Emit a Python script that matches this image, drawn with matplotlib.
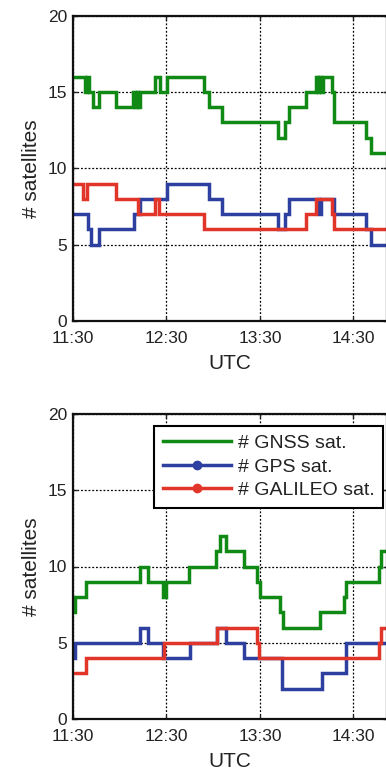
import matplotlib
matplotlib.use("Agg")
import matplotlib.pyplot as plt
from matplotlib.lines import Line2D

plt.rcParams['font.family'] = ['Liberation Sans', 'DejaVu Sans']

# time in minutes after 11:30 UTC, step values (steps-post)
top_gnss_t = [0, 7.7, 9.2, 10.1, 12.7, 16.9, 27.6, 38.8, 39.9, 41, 42, 43.1, 52.7, 55.9, 60.2, 83.8, 87.0, 95.6,
              131.6, 136.3, 138.5, 149.8, 156.0, 157.0, 158.0, 159.0, 160.3, 165.9, 167.4, 187.8, 191.0]
top_gnss_v = [16, 15, 16, 15, 14, 15, 14, 15, 14, 15, 14, 15, 16, 15, 16, 15, 14, 13,
              12, 13, 14, 15, 16, 15, 16, 15, 16, 15, 13, 12, 11]

top_gps_t = [0, 9.9, 11.4, 16.9, 39.2, 43.1, 60.2, 87.0, 95.6, 131.6, 135.9, 138.5, 157.7, 159.3, 167.4, 187.8, 191.0]
top_gps_v = [7, 6, 5, 6, 7, 8, 9, 8, 7, 6, 7, 8, 7, 8, 7, 6, 5]

top_gal_t = [0, 6.6, 8.8, 27.6, 42.0, 52.7, 55.5, 83.8, 149.8, 156.0, 165.9, 167.4]
top_gal_v = [9, 8, 9, 8, 7, 8, 7, 6, 7, 8, 7, 6]

bot_gnss_t = [0, 1.5, 8.4, 43.1, 48.4, 57.7, 59.8, 74.2, 92.0, 94.1, 98.0, 110.0, 118.1, 120.2, 133.1, 134.5,
              158.8, 173.8, 175.0, 196.3, 197.8]
bot_gnss_v = [7, 8, 9, 10, 9, 8, 9, 10, 11, 12, 11, 10, 9, 8, 7, 6, 7, 8, 9, 10, 11]

bot_gps_t = [0, 1.5, 43.1, 48.4, 58.0, 75.2, 92.4, 98.0, 110.0, 134.2, 159.5, 174.9]
bot_gps_v = [4, 5, 6, 5, 4, 5, 6, 5, 4, 2, 3, 5]

bot_gal_t = [0, 8.4, 58.5, 92.4, 118.1, 119.5, 196.3, 197.5]
bot_gal_v = [3, 4, 5, 6, 5, 4, 5, 6]

xtick_pos = [0, 60, 120, 180]
xtick_labels = ['11:30', '12:30', '13:30', '14:30']
yticks = [0, 5, 10, 15, 20]
labels = ['# GNSS sat.', '# GPS sat.', '# GALILEO sat.']

T_END = 201.5
C_GNSS = '#108a14'
C_GPS = '#2d3f9f'
C_GAL = '#e2352a'

W, H = 386, 774
fig = plt.figure(figsize=(W / 100, H / 100), dpi=100)

left_px, right_px = 73, 387
ax1 = fig.add_axes([left_px / W, 1 - 321 / H, (right_px - left_px) / W, (321 - 15.5) / H])
ax2 = fig.add_axes([left_px / W, 1 - 719 / H, (right_px - left_px) / W, (719 - 414) / H])


def ext(t, v):
    return list(t) + [T_END], list(v) + [v[-1]]


for ax, series in [(ax1, [(top_gnss_t, top_gnss_v, C_GNSS), (top_gps_t, top_gps_v, C_GPS), (top_gal_t, top_gal_v, C_GAL)]),
                   (ax2, [(bot_gnss_t, bot_gnss_v, C_GNSS), (bot_gps_t, bot_gps_v, C_GPS), (bot_gal_t, bot_gal_v, C_GAL)])]:
    for t, v, c in series:
        tt, vv = ext(t, v)
        ax.plot(tt, vv, drawstyle='steps-post', color=c, lw=2.5, solid_joinstyle='miter')
    ax.set_xlim(0, T_END)
    ax.set_ylim(0, 20)
    ax.set_xticks(xtick_pos)
    ax.set_xticklabels(xtick_labels)
    ax.set_yticks(yticks)
    ax.grid(True, color='black', linestyle=(0, (1.5, 1.5)), lw=0.9)
    ax.tick_params(direction='in', length=3, width=1, labelsize=12.5, top=True, right=True, colors='#222222',
                   labelcolor='#222222')
    ax.tick_params(axis='x', pad=7)
    ax.tick_params(axis='y', pad=4)
    for s in ax.spines.values():
        s.set_linewidth(1.6)
        s.set_color('#111111')
    ax.set_xlabel('UTC', fontsize=15, color='#222222', labelpad=6)
    ax.set_ylabel('# satellites', fontsize=15, color='#222222', labelpad=5)

handles = [Line2D([], [], color=C_GNSS, lw=2.5),
           Line2D([], [], color=C_GPS, lw=2.5, marker='o', markersize=6),
           Line2D([], [], color=C_GAL, lw=2.5, marker='o', markersize=6)]
leg = ax2.legend(handles, labels, loc='upper right', bbox_to_anchor=(383 / W, 1 - 425.7 / H),
                 bbox_transform=fig.transFigure, fontsize=14, fancybox=False, framealpha=1,
                 edgecolor='black', handlelength=3.5, handletextpad=0.35, labelspacing=0.3,
                 borderpad=0.45, borderaxespad=0)
leg.get_frame().set_linewidth(1.5)
for txt in leg.get_texts():
    txt.set_color('#222222')

fig.savefig('out.png', dpi=100)
